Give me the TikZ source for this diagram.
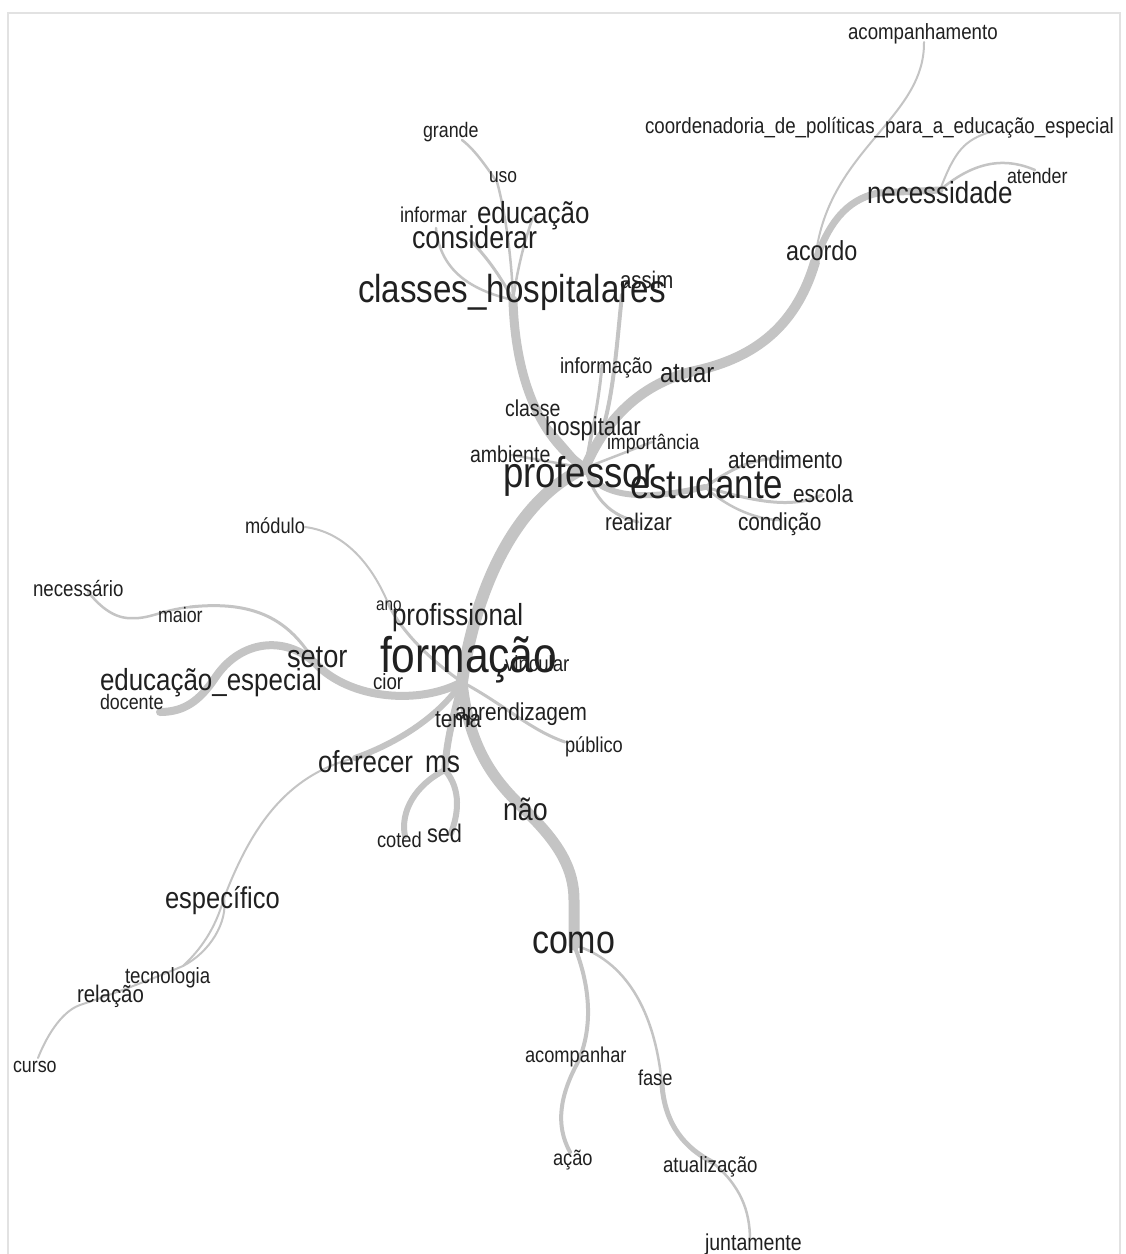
\documentclass[tikz,border=0pt]{standalone}
\usepackage{fontspec}
\setmainfont{Liberation Sans}[FakeStretch=0.85]
\definecolor{ink}{HTML}{202020}
\definecolor{edge}{HTML}{C4C4C4}
\definecolor{framecol}{HTML}{E2E2E2}
\newcommand\fsz[1]{\fontsize{#1}{#1}\selectfont}
\tikzset{
  wd/.style={font=\fsz{#1}, anchor=base west, inner sep=0pt, outer sep=0pt, text=ink},
  lnk/.style={draw=edge, line cap=round, line join=round, line width=#1}
}
\begin{document}
\begin{tikzpicture}[x=1pt,y=-1pt]
\useasboundingbox (0,0) rectangle (1126,1254);
\fill[white] (0,0) rectangle (1126,1254);
\draw[framecol, line width=2] (8,13) rectangle (1120,1262);

% ---------- vertices ----------
\coordinate (vF) at (462,682);
\coordinate (vP) at (585,468);
\coordinate (vNao) at (530,815);
\coordinate (vComo) at (574,945);
\coordinate (vAcompanhar) at (578,1062);
\coordinate (vAcao) at (570,1152);
\coordinate (vFase) at (662,1085);
\coordinate (vAtual) at (712,1162);
\coordinate (vJunt) at (750,1240);
\coordinate (vMs) at (445,770);
\coordinate (vCoted) at (405,836);
\coordinate (vSed) at (451,833);
\coordinate (vOf) at (355,758);
\coordinate (vEsp) at (224,898);
\coordinate (vTec) at (183,966);
\coordinate (vRel) at (80,1005);
\coordinate (vCurso) at (38,1058);
\coordinate (vSetor) at (315,663);
\coordinate (vEE) at (215,678);
\coordinate (vDoc) at (160,712);
\coordinate (vMaior) at (190,607);
\coordinate (vMaiorL) at (127,618);
\coordinate (vNec) at (88,592);
\coordinate (vMod) at (305,527);
\coordinate (vAno) at (388,603);
\coordinate (vPub) at (565,742);
\coordinate (vH) at (513,300);
\coordinate (vUso) at (497,182);
\coordinate (vGrande) at (462,140);
\coordinate (vCons) at (470,240);
\coordinate (vInf) at (436,228);
\coordinate (vEdu) at (533,217);
\coordinate (vAtuar) at (690,372);
\coordinate (vAcordo) at (815,262);
\coordinate (vNeces) at (940,190);
\coordinate (vAcomp) at (924,42);
\coordinate (vCEE) at (990,132);
\coordinate (vAtender) at (1035,170);
\coordinate (vAssim) at (622,295);
\coordinate (vInfo) at (602,365);
\coordinate (vEst) at (705,487);
\coordinate (vAtend) at (785,458);
\coordinate (vEsc) at (822,495);
\coordinate (vCond) at (780,520);
\coordinate (vReal) at (638,522);
\coordinate (vClasse) at (535,410);
\coordinate (vHosp) at (592,428);
\coordinate (vImp) at (652,442);
\coordinate (vAmb) at (512,455);

% ---------- connectors ----------
\draw[lnk=12] (vF) .. controls (475,590) and (515,500) .. (vP);
\draw[lnk=11] (vF) .. controls (470,760) and (505,790) .. (vNao) .. controls (560,845) and (574,870) .. (574,900) -- (vComo);
\draw[lnk=4] (vComo) .. controls (592,990) and (592,1030) .. (vAcompanhar) .. controls (560,1095) and (555,1125) .. (vAcao);
\draw[lnk=2.5] (vComo) .. controls (625,960) and (655,1010) .. (vFase);
\draw[lnk=5] (vFase) .. controls (665,1125) and (685,1148) .. (vAtual);
\draw[lnk=2.5] (vAtual) .. controls (740,1185) and (750,1210) .. (vJunt);
\draw[lnk=7] (vF) .. controls (452,720) and (446,745) .. (vMs);
\draw[lnk=6] (vMs) .. controls (415,785) and (400,812) .. (vCoted);
\draw[lnk=6] (vMs) .. controls (462,790) and (458,815) .. (vSed);
\draw[lnk=6] (vF) .. controls (440,715) and (400,742) .. (vOf);
\draw[lnk=2] (vOf) .. controls (285,775) and (250,830) .. (vEsp);
\draw[lnk=2] (vEsp) .. controls (215,930) and (200,950) .. (vTec);
\draw[lnk=2] (vEsp) .. controls (228,922) and (210,952) .. (vTec);
\draw[lnk=2] (vTec) .. controls (150,980) and (110,995) .. (vRel);
\draw[lnk=2] (vRel) .. controls (60,1012) and (45,1040) .. (vCurso);
\draw[lnk=8] (vF) .. controls (420,705) and (350,700) .. (vSetor);
\draw[lnk=8] (vSetor) .. controls (285,635) and (240,640) .. (vEE) .. controls (200,700) and (185,712) .. (vDoc);
\draw[lnk=3] (vSetor) .. controls (290,620) and (255,600) .. (vMaior);
\draw[lnk=2.5] (vMaior) .. controls (160,610) and (150,620) .. (vMaiorL) .. controls (108,616) and (95,600) .. (vNec);
\draw[lnk=2] (vMod) .. controls (345,532) and (372,565) .. (vAno);
\draw[lnk=3] (vAno) .. controls (400,630) and (430,660) .. (vF);
\draw[lnk=3] (vF) .. controls (505,705) and (530,730) .. (vPub);
\draw[lnk=9] (vP) .. controls (535,435) and (515,370) .. (vH);
\draw[lnk=2.5] (vH) .. controls (512,260) and (505,210) .. (vUso) .. controls (485,165) and (475,150) .. (vGrande);
\draw[lnk=3] (vH) .. controls (500,275) and (485,255) .. (vCons);
\draw[lnk=2.5] (vH) .. controls (470,290) and (440,270) .. (vInf);
\draw[lnk=2.5] (vH) .. controls (518,265) and (525,240) .. (vEdu);
\draw[lnk=10] (vP) .. controls (605,420) and (640,385) .. (vAtuar) .. controls (750,360) and (795,330) .. (vAcordo);
\draw[lnk=7] (vAcordo) .. controls (828,225) and (845,200) .. (878,193) -- (vNeces);
\draw[lnk=2] (vAcordo) .. controls (825,150) and (925,120) .. (vAcomp);
\draw[lnk=2] (vNeces) .. controls (955,150) and (965,140) .. (vCEE);
\draw[lnk=2.5] (vNeces) .. controls (970,165) and (1000,155) .. (vAtender);
\draw[lnk=4] (vP) .. controls (612,430) and (615,360) .. (vAssim);
\draw[lnk=3] (vP) .. controls (595,420) and (600,390) .. (vInfo);
\draw[lnk=6] (vP) .. controls (600,500) and (650,500) .. (vEst);
\draw[lnk=3] (vEst) .. controls (730,470) and (750,458) .. (vAtend);
\draw[lnk=3] (vEst) .. controls (750,500) and (790,510) .. (vEsc);
\draw[lnk=2.5] (vEst) .. controls (730,510) and (760,520) .. (vCond);
\draw[lnk=3] (vP) .. controls (595,500) and (610,515) .. (vReal);
\draw[lnk=2.5] (vP) -- (vClasse);
\draw[lnk=2.5] (vP) -- (vHosp);
\draw[lnk=2.5] (vP) -- (vImp);
\draw[lnk=2.5] (vP) -- (vAmb);

% ---------- words ----------
\node[wd=22] (t-acompanhamento) at (848,39) {acompanhamento};
\node[wd=22] (t-coord) at (645,133) {coordenadoria\_de\_políticas\_para\_a\_educação\_especial};
\node[wd=21] (t-grande) at (423,137) {grande};
\node[wd=20.5] (t-uso) at (489,182) {uso};
\node[wd=21.5] (t-informar) at (400,222) {informar};
\node[wd=30.5] (t-educacao) at (477,223) {educação};
\node[wd=31.5] (t-considerar) at (412,248) {considerar};
\node[wd=39] (t-classes) at (358,302) {classes\_hospitalares};
\node[wd=24] (t-assim) at (620,288) {assim};
\node[wd=21] (t-atender) at (1007,183) {atender};
\node[wd=30.5] (t-necessidade) at (867,203) {necessidade};
\node[wd=27.5] (t-acordo) at (786,260) {acordo};
\node[wd=22] (t-informacao) at (560,373) {informação};
\node[wd=28] (t-atuar) at (660,382) {atuar};
\node[wd=23] (t-classe) at (505,416) {classe};
\node[wd=26] (t-hospitalar) at (545,435) {hospitalar};
\node[wd=21] (t-importancia) at (607,449) {importância};
\node[wd=23] (t-ambiente) at (470,462) {ambiente};
\node[wd=43] (t-professor) at (503,487) {professor};
\node[wd=41] (t-estudante) at (630,498) {estudante};
\node[wd=24.5] (t-atendimento) at (728,468) {atendimento};
\node[wd=24.5] (t-escola) at (793,502) {escola};
\node[wd=24] (t-realizar) at (605,530) {realizar};
\node[wd=24.5] (t-condicao) at (738,530) {condição};
\node[wd=21.5] (t-modulo) at (245,533) {módulo};
\node[wd=22] (t-necessario) at (33,596) {necessário};
\node[wd=21] (t-maior) at (158,622) {maior};
\node[wd=32] (t-setor) at (287,667) {setor};
\node[wd=30.5] (t-educesp) at (100,690) {educação\_especial};
\node[wd=21] (t-docente) at (100,709) {docente};
\node[wd=18] (t-ano) at (376,610) {ano};
\node[wd=30.5] (t-profissional) at (392,625) {profissional};
\node[wd=22] (t-vincular) at (505,671) {vincular};
\node[wd=50] (t-formacao) at (380,672) {formação};
\node[wd=22] (t-cior) at (373,689) {cior};
\node[wd=24.5] (t-aprendizagem) at (455,720) {aprendizagem};
\node[wd=24.5] (t-tema) at (435,727) {tema};
\node[wd=21.5] (t-publico) at (565,752) {público};
\node[wd=30.5] (t-oferecer) at (318,772) {oferecer};
\node[wd=31] (t-ms) at (425,772) {ms};
\node[wd=31.5] (t-nao) at (503,820) {não};
\node[wd=21.5] (t-coted) at (377,847) {coted};
\node[wd=25.5] (t-sed) at (427,842) {sed};
\node[wd=30] (t-especifico) at (165,908) {específico};
\node[wd=22] (t-tecnologia) at (125,983) {tecnologia};
\node[wd=24] (t-relacao) at (77,1002) {relação};
\node[wd=21] (t-curso) at (13,1072) {curso};
\node[wd=40] (t-como) at (532,953) {como};
\node[wd=21.5] (t-acompanhar) at (525,1062) {acompanhar};
\node[wd=21.5] (t-fase) at (638,1085) {fase};
\node[wd=21.5] (t-acao) at (553,1165) {ação};
\node[wd=22] (t-atualizacao) at (663,1172) {atualização};
\node[wd=23] (t-juntamente) at (705,1250) {juntamente};
\end{tikzpicture}
\end{document}
